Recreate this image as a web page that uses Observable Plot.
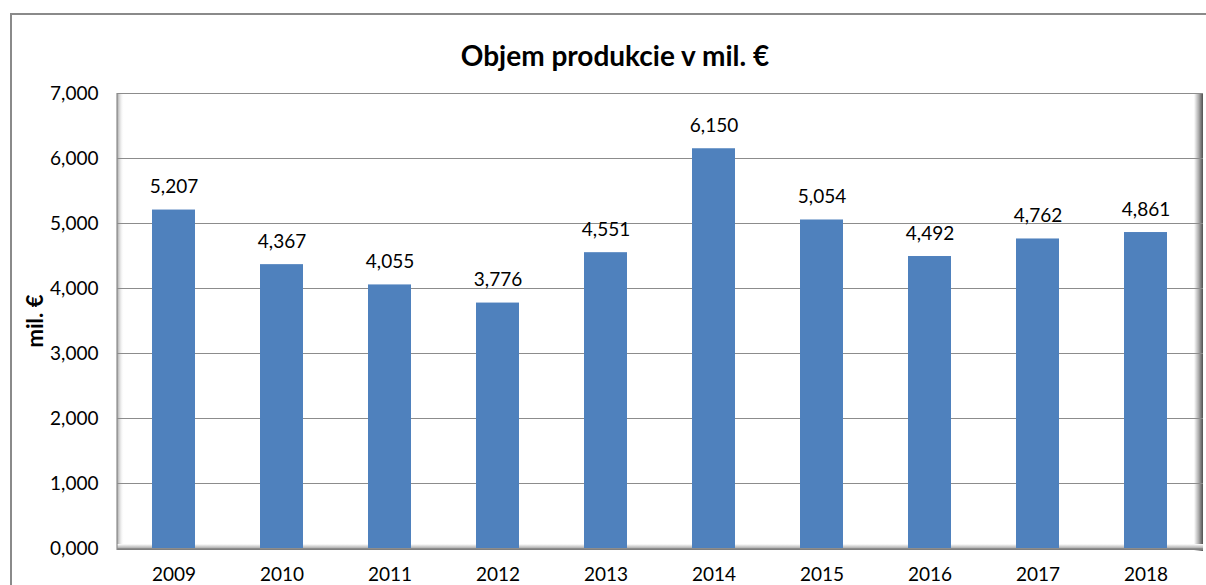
<!DOCTYPE html>
<html>
<head>
<meta charset="utf-8">
<script src="https://cdn.jsdelivr.net/npm/d3@7"></script>
<script src="https://cdn.jsdelivr.net/npm/@observablehq/plot@0.6"></script>
<style>
  html, body { margin: 0; padding: 0; width: 1206px; height: 585px; overflow: hidden; background: #fff; }
  #border { position: absolute; left: 10px; top: 13px; width: 1300px; height: 700px; border: 2px solid #8a8a8a; box-sizing: border-box; }
  #title { position: absolute; left: 0; top: 38px; width: 1230px; text-align: center; font-family: Lato, "Open Sans", sans-serif; font-weight: bold; font-size: 28px; line-height: 34px; color: #000; }
  #chart { position: absolute; left: 0; top: 0; }
</style>
</head>
<body>
<div id="border"></div>
<div id="chart"></div>
<div id="title">Objem produkcie v mil. €</div>
<script>
const years = ["2009", "2010", "2011", "2012", "2013", "2014", "2015", "2016", "2017", "2018"];
const values = [5.207, 4.367, 4.055, 3.776, 4.551, 6.150, 5.054, 4.492, 4.762, 4.861];
const yTicks = [0, 1, 2, 3, 4, 5, 6, 7];
const yLabel = "mil. €";

const fmt = d => d.toFixed(3).replace(".", ",");
const data = years.map((year, i) => ({year, value: values[i]}));

const plot = Plot.plot({
  width: 1206,
  height: 585,
  marginLeft: 117,
  marginRight: 3,
  marginTop: 93,
  marginBottom: 37,
  style: {fontFamily: "Lato, 'Open Sans', sans-serif", fontSize: "19px", color: "#000", background: "transparent", overflow: "visible"},
  x: {domain: years, paddingInner: 0.6, paddingOuter: 0.3, label: null, tickSize: 0, tickPadding: 19},
  y: {domain: [0, 7], ticks: yTicks, tickFormat: fmt, tickSize: 0, tickPadding: 19, label: null},
  marks: [
    Plot.ruleY(yTicks, {stroke: "#8c8c8c", strokeWidth: 1.2}),
    Plot.barY(data, {x: "year", y: "value", fill: "#4F81BD"}),
    Plot.text(data, {x: "year", y: "value", text: d => fmt(d.value), dy: -23, fontSize: 19, fill: "#000"}),
    Plot.text([yLabel], {frameAnchor: "left", textAnchor: "middle", dx: -82, rotate: -90, fontWeight: "bold", fontSize: 22, fill: "#000"})
  ]
});
document.getElementById("chart").appendChild(plot);

// 3D wall shading (Excel style), positioned from the plot's scales
const svg = d3.select(plot);
const xr = plot.scale("x").range;
const y0 = plot.scale("y").apply(0);
const y7 = plot.scale("y").apply(7);
const defs = svg.insert("defs", ":first-child");
const g1 = defs.append("linearGradient").attr("id", "wl").attr("x1", 0).attr("x2", 1).attr("y1", 0).attr("y2", 0);
g1.append("stop").attr("offset", 0).attr("stop-color", "#a0a0a0");
g1.append("stop").attr("offset", 1).attr("stop-color", "#ffffff").attr("stop-opacity", 0);
const g2 = defs.append("linearGradient").attr("id", "wr").attr("x1", 0).attr("x2", 1).attr("y1", 0).attr("y2", 0);
g2.append("stop").attr("offset", 0).attr("stop-color", "#ffffff");
g2.append("stop").attr("offset", 0.5).attr("stop-color", "#b0b0b0");
g2.append("stop").attr("offset", 1).attr("stop-color", "#505050");
const g3 = defs.append("linearGradient").attr("id", "wb").attr("x1", 0).attr("x2", 0).attr("y1", 0).attr("y2", 1);
g3.append("stop").attr("offset", 0).attr("stop-color", "#ffffff");
g3.append("stop").attr("offset", 0.6).attr("stop-color", "#b8b8b8");
g3.append("stop").attr("offset", 1).attr("stop-color", "#707070");
const walls = svg.insert("g", "g");
walls.append("rect").attr("x", xr[0]).attr("y", y7).attr("width", 7).attr("height", y0 - y7).attr("fill", "url(#wl)");
walls.append("rect").attr("x", xr[1] - 9).attr("y", y7).attr("width", 9).attr("height", y0 - y7 + 3).attr("fill", "url(#wr)");
walls.append("rect").attr("x", xr[0]).attr("y", y0 - 4).attr("width", xr[1] - xr[0]).attr("height", 6).attr("fill", "url(#wb)");
walls.append("line").attr("x1", xr[0]).attr("x2", xr[0]).attr("y1", y7).attr("y2", y0 + 2).attr("stroke", "#8c8c8c").attr("stroke-width", 1.2);
</script>
</body>
</html>
